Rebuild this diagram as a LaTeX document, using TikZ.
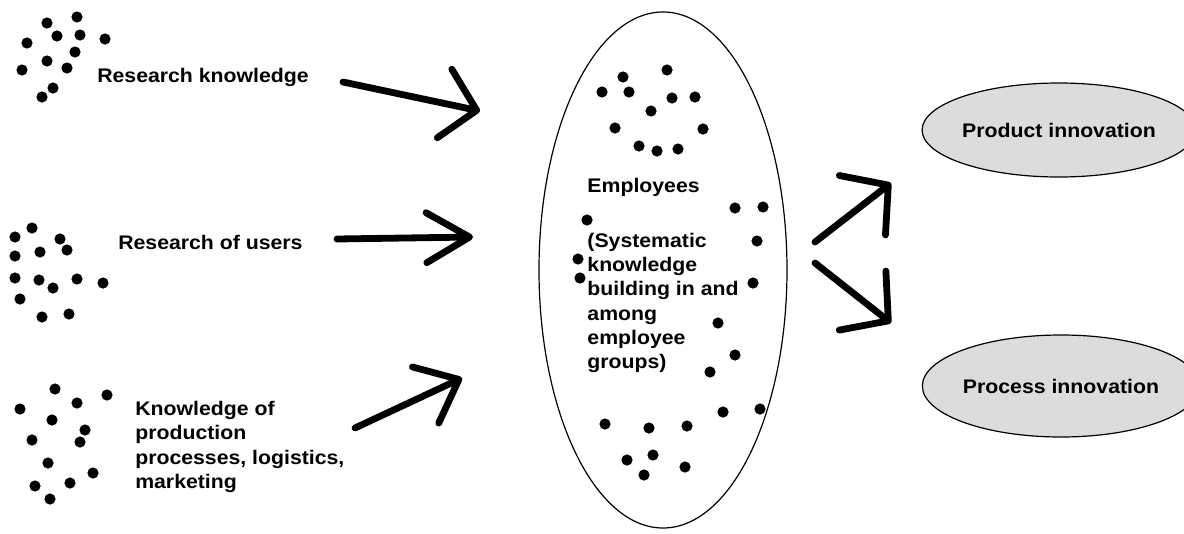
\documentclass[tikz,border=0pt]{standalone}
\usepackage{fontspec}
\setmainfont{Liberation Sans}[FakeStretch=1.08]
\usepackage{tikz}
\usetikzlibrary{shapes.geometric, arrows.meta, positioning}
\usepackage{xcolor}
\definecolor{innofill}{RGB}{220,220,220}

\tikzset{
	lbl/.style={inner sep=0pt, font=\fontsize{14}{17.3}\selectfont\bfseries},
	scribble/.style={line width=1.7mm, line cap=round, line join=round},
	barb/.style 2 args={-{Straight Barb[round, length=#1, width=#2]}},
	dot/.style={fill=black}
}

\begin{document}
\begin{tikzpicture}[x=0.25mm, y=-0.25mm]
		\useasboundingbox (0,0) rectangle (1184,533);

		% sources of knowledge on the left
		\path (97,77) node[lbl, anchor=west] (rknow) {Research knowledge}
		(118,242) node[lbl, anchor=west] (rusers) {Research of users}
		(135,447) node[lbl, anchor=west, align=left] (prodk) {Knowledge of\\production\\processes, logistics,\\marketing};

		% employees in the middle
		\node[ellipse, draw, line width=0.3mm, minimum width=62mm, minimum height=129mm] (staff) at (663,270) {};
		\node[lbl, align=left] (stafftext) at ([yshift=-1.4mm]staff.center)
		{Employees\\[7.6mm](Systematic\\knowledge\\building in and\\among\\employee\\groups)};

		% the two kinds of innovation
		\node[ellipse, draw, line width=0.3mm, fill=innofill, minimum width=62mm, minimum height=23.5mm, lbl] (prodinno) at (1059,130) {Product innovation};
		\node[ellipse, draw, line width=0.3mm, fill=innofill, minimum width=58mm, minimum height=25.5mm, lbl] (procinno) at (1061,386) {Process innovation};

		% scattered dots
		\foreach \x/\y in {77/17, 47/23, 57/36, 80/35, 105/39, 27/43, 75/52, 47/61, 67/68, 22/70, 53/88, 42/97}
			\fill[dot] (\x,\y) circle[radius=1.4mm];
		\foreach \x/\y in {32/228, 15/237, 60/239, 67/250, 40/252, 15/256, 15/278, 39/280, 53/288, 77/279, 103/283, 20/299, 42/317, 69/314}
			\fill[dot] (\x,\y) circle[radius=1.4mm];
		\foreach \x/\y in {55/389, 107/395, 20/409, 77/403, 52/420, 85/430, 32/440, 80/442, 48/463, 93/473, 35/486, 70/483, 50/499}
			\fill[dot] (\x,\y) circle[radius=1.4mm];
		\foreach \x/\y in {623/77, 667/70, 602/92, 629/92, 672/98, 695/97, 651/111, 615/128, 703/129, 639/146, 657/151, 678/149,
			735/208, 763/207, 587/220, 757/241, 578/259, 580/278, 753/283, 718/323, 735/355, 710/372,
			723/412, 760/409, 605/424, 649/428, 687/426, 627/460, 653/455, 644/475, 685/467}
			\fill[dot] (\x,\y) circle[radius=1.4mm];

		% arrow ends
		\coordinate (rknow-out) at (343,82);
		\coordinate (rusers-out) at (337,239);
		\coordinate (prodk-out) at (355,428);
		\coordinate (staff-in1) at (480,111);
		\coordinate (staff-in2) at (473,237);
		\coordinate (staff-in3) at (462,378);
		\coordinate (staff-out1) at (815,242);
		\coordinate (staff-out2) at (815,263);
		\coordinate (prodinno-in) at (891,183);
		\coordinate (procinno-in) at (891,323);

		\draw[scribble, barb={8.2mm}{17.5mm}] (rknow-out) -- (staff-in1);
		\draw[scribble, barb={10.8mm}{12.5mm}] (rusers-out) -- (staff-in2);
		\draw[scribble, barb={9.2mm}{15.5mm}] (prodk-out) -- (staff-in3);
		\draw[scribble, barb={8.2mm}{18.8mm}] (staff-out1) -- (prodinno-in);
		\draw[scribble, barb={8.2mm}{18.8mm}] (staff-out2) -- (procinno-in);
	\end{tikzpicture}
\end{document}
